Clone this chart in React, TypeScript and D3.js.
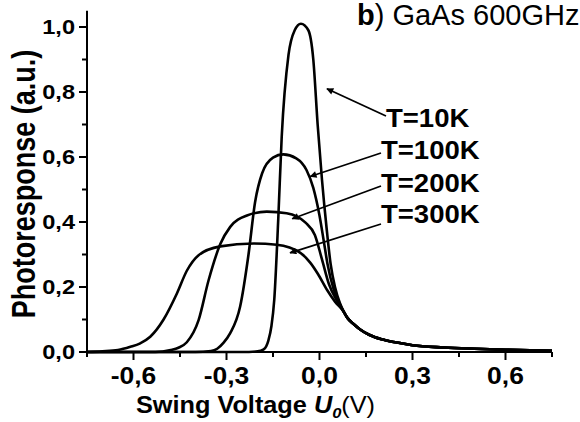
import React from "react";
import * as d3 from "d3";

// ---- data ----
const xTicks = [-0.6, -0.3, 0.0, 0.3, 0.6];
const xMinorTicks = [-0.75, -0.45, -0.15, 0.15, 0.45, 0.75];
const yTicks = [0.0, 0.2, 0.4, 0.6, 0.8, 1.0];
const yMinorTicks = [0.1, 0.3, 0.5, 0.7, 0.9];

// common high-voltage tail shared by all temperatures
const sharedTail: [number, number][] = [
  [0.09, 0.105], [0.11, 0.086], [0.13, 0.07], [0.16, 0.053], [0.2, 0.039],
  [0.25, 0.029], [0.3, 0.021], [0.4, 0.014], [0.5, 0.01], [0.6, 0.007], [0.75, 0.004],
];

const curveT10K: [number, number][] = [
  [-0.75, 0], [-0.25, 0], [-0.2, 0.002], [-0.18, 0.008], [-0.165, 0.035], [-0.155, 0.08],
  [-0.146, 0.16], [-0.133, 0.41], [-0.122, 0.66], [-0.1, 0.914], [-0.08, 0.99],
  [-0.06, 1.01], [-0.036, 0.99], [-0.02, 0.9], [-0.006, 0.7], [0.008, 0.53],
  [0.023, 0.38], [0.036, 0.27], [0.05, 0.2], [0.066, 0.15], [0.078, 0.124],
];
const curveT100K: [number, number][] = [
  [-0.75, 0], [-0.4, 0], [-0.35, 0.003], [-0.33, 0.01], [-0.31, 0.028], [-0.288, 0.058],
  [-0.256, 0.14], [-0.229, 0.3], [-0.208, 0.46], [-0.185, 0.55], [-0.15, 0.598],
  [-0.117, 0.608], [-0.075, 0.596], [-0.042, 0.56], [-0.02, 0.505], [0.0, 0.42],
  [0.014, 0.34], [0.026, 0.27], [0.045, 0.195], [0.062, 0.155], [0.078, 0.124],
];
const curveT200K: [number, number][] = [
  [-0.75, 0], [-0.53, 0], [-0.48, 0.006], [-0.455, 0.013], [-0.428, 0.03], [-0.39, 0.098],
  [-0.358, 0.22], [-0.32, 0.332], [-0.288, 0.385], [-0.234, 0.42], [-0.17, 0.432],
  [-0.106, 0.427], [-0.045, 0.398], [-0.015, 0.36], [0.008, 0.285], [0.03, 0.21],
  [0.055, 0.16], [0.078, 0.124],
];
const curveT300K: [number, number][] = [
  [-0.75, 0], [-0.7, 0.002], [-0.65, 0.006], [-0.61, 0.016], [-0.58, 0.026], [-0.546, 0.047],
  [-0.503, 0.1], [-0.46, 0.18], [-0.428, 0.25], [-0.39, 0.298], [-0.32, 0.325],
  [-0.213, 0.334], [-0.138, 0.33], [-0.063, 0.306], [-0.03, 0.275], [-0.005, 0.24],
  [0.025, 0.19], [0.05, 0.155], [0.078, 0.124],
];

const seriesLabels = ["T=10K", "T=100K", "T=200K", "T=300K"];
const seriesData = [curveT10K, curveT100K, curveT200K, curveT300K];
// points on each curve the arrows point at (data coords)
const arrowTargets: [number, number][] = [
  [0.024, 0.81], [-0.03, 0.54], [-0.088, 0.41], [-0.095, 0.305],
];

const FONT = "'Liberation Sans', Arial, Helvetica, sans-serif";

export default function App() {
  const W = 580, H = 422;
  const x = d3.scaleLinear().domain([-0.75, 0.75]).range([87, 552]);
  const y = d3.scaleLinear().domain([0, 1.05]).range([352, 10.75]);
  const fmt = d3.formatLocale({
    decimal: ",", thousands: ".", grouping: [3], currency: ["", ""], minus: "-",
  }).format(".1f");

  const line = d3.line<[number, number]>()
    .x((d) => x(d[0]))
    .y((d) => y(d[1]))
    .curve(d3.curveMonotoneX);

  const labelPos = [
    { lx: 386, ly: 127, sx: 386, sy: 116 },
    { lx: 381, ly: 159, sx: 381, sy: 153 },
    { lx: 381, ly: 192, sx: 381, sy: 186 },
    { lx: 381, ly: 223, sx: 381, sy: 224 },
  ];

  return (
    <svg width={W} height={H} style={{ position: "absolute", left: 0, top: 0, background: "#fff" }}
      fontFamily={FONT}>
      <defs>
        <marker id="ah" viewBox="0 0 10 10" refX="9" refY="5" markerWidth="9" markerHeight="7"
          markerUnits="userSpaceOnUse" orient="auto">
          <path d="M0,0 L10,5 L0,10 z" fill="#000" />
        </marker>
      </defs>

      {/* curves */}
      {seriesData.map((s, i) => (
        <path key={i} d={line([...s, ...sharedTail]) || ""} fill="none" stroke="#000"
          strokeWidth={2.6} strokeLinejoin="round" />
      ))}

      {/* axes */}
      <line x1={x(-0.75)} x2={x(-0.75)} y1={y(0)} y2={y(1.05)} stroke="#000" strokeWidth={2} />
      <line x1={x(-0.75)} x2={x(0.75)} y1={y(0)} y2={y(0)} stroke="#000" strokeWidth={2} />
      {xTicks.map((t) => (
        <g key={"xt" + t}>
          <line x1={x(t)} x2={x(t)} y1={y(0)} y2={y(0) + 8} stroke="#000" strokeWidth={2} />
          <text transform={`translate(${x(t)},384) scale(1.15,1)`} textAnchor="middle"
            fontSize={23} fontWeight="bold">{fmt(t)}</text>
        </g>
      ))}
      {xMinorTicks.map((t) => (
        <line key={"xm" + t} x1={x(t)} x2={x(t)} y1={y(0)} y2={y(0) + 5} stroke="#000" strokeWidth={2} />
      ))}
      {yTicks.map((t) => (
        <g key={"yt" + t}>
          <line x1={x(-0.75) - 8} x2={x(-0.75)} y1={y(t)} y2={y(t)} stroke="#000" strokeWidth={2} />
          <text transform={`translate(75,${y(t) + 7}) scale(1.18,1)`} textAnchor="end"
            fontSize={20} fontWeight="bold">{fmt(t)}</text>
        </g>
      ))}
      {yMinorTicks.map((t) => (
        <line key={"ym" + t} x1={x(-0.75) - 5} x2={x(-0.75)} y1={y(t)} y2={y(t)} stroke="#000" strokeWidth={2} />
      ))}

      {/* axis titles */}
      <text transform="translate(35,184) scale(1.25,1) rotate(-90)" textAnchor="middle"
        fontSize={27} fontWeight="bold">Photoresponse (a.u.)</text>
      <text transform="translate(136,413) scale(1.1,1)" fontSize={23} fontWeight="bold">
        Swing Voltage{" "}
        <tspan fontStyle="italic">U</tspan>
        <tspan fontStyle="italic" fontSize={15} dy={5}>0</tspan>
        <tspan fontWeight="normal" dy={-5}>(V)</tspan>
      </text>

      {/* panel title */}
      <text x={357} y={25} fontSize={29}>
        <tspan fontWeight="bold">b</tspan>) GaAs 600GHz
      </text>

      {/* series labels with arrows */}
      {seriesLabels.map((lab, i) => (
        <g key={lab}>
          <line x1={labelPos[i].sx} y1={labelPos[i].sy}
            x2={x(arrowTargets[i][0])} y2={y(arrowTargets[i][1])}
            stroke="#000" strokeWidth={1.8} markerEnd="url(#ah)" />
          <text transform={`translate(${labelPos[i].lx},${labelPos[i].ly}) scale(1.1,1)`}
            fontSize={25} fontWeight="bold">{lab}</text>
        </g>
      ))}
    </svg>
  );
}
